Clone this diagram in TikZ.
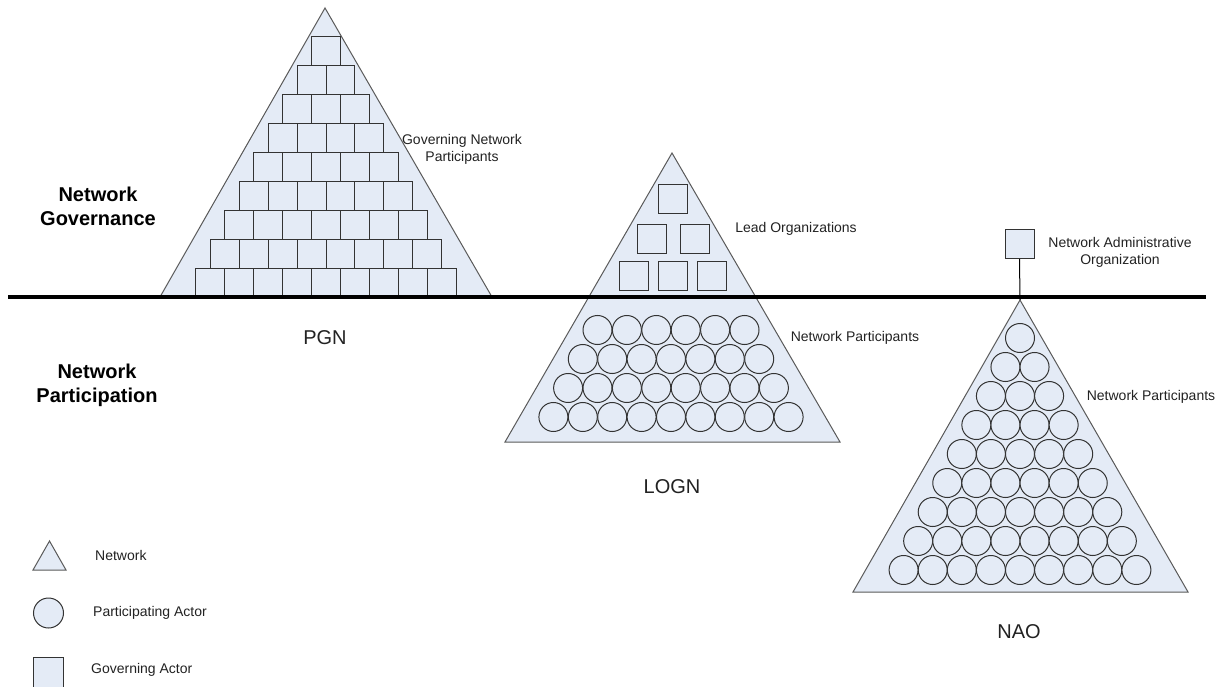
\documentclass[tikz,border=0pt]{standalone}
\usepackage{fontspec}
\setmainfont{Liberation Sans}
\definecolor{fillblue}{HTML}{E4EBF6}
\definecolor{edgegray}{HTML}{5A5A5A}
\definecolor{boxedge}{HTML}{333333}
\definecolor{txtgray}{HTML}{222222}
\tikzset{
  net/.style={draw=edgegray, fill=fillblue, line width=1pt, line join=miter},
  gov/.style={rectangle, draw=boxedge, fill=fillblue, line width=1pt, minimum size=28.9pt, inner sep=0pt},
  govsep/.style={rectangle, draw=boxedge, fill=fillblue, line width=1pt, minimum size=29pt, inner sep=0pt},
  part/.style={circle, draw=boxedge, fill=fillblue, line width=1pt, minimum size=29pt, inner sep=0pt},
  biglabel/.style={font=\fontsize{20}{24}\selectfont, text=txtgray, inner sep=0pt},
  sidelabel/.style={font=\fontsize{20}{24}\selectfont\bfseries, align=center, inner sep=0pt},
  smalllabel/.style={font=\fontsize{14}{17}\selectfont, text=txtgray, align=center, inner sep=0pt},
  legendtext/.style={font=\fontsize{14}{17}\selectfont, text=txtgray, anchor=west, inner sep=0pt}
}
\begin{document}
\begin{tikzpicture}[x=1pt, y=-1pt]
\useasboundingbox (0,0) rectangle (1223,687);
% key coordinates
\coordinate (pgnA) at (325,8);
\coordinate (pgnL) at (160,297);
\coordinate (pgnR) at (492,297);
\coordinate (lognA) at (672,153);
\coordinate (lognL) at (505,442);
\coordinate (lognR) at (840,442);
\coordinate (naoA) at (1020,300);
\coordinate (naoL) at (853,592);
\coordinate (naoR) at (1188,592);
\coordinate (lineL) at (8,297);
\coordinate (lineR) at (1206,297);
% triangles
\draw[net] (pgnA) -- (pgnL) -- (pgnR) -- cycle;
\draw[net] (lognA) -- (lognL) -- (lognR) -- cycle;
\draw[net] (naoA) -- (naoL) -- (naoR) -- cycle;
% PGN squares
\foreach \i in {1,...,9}{
  \foreach \j in {1,...,\i}{
    \node[gov] (pgn-\i-\j) at ({326+(\j-(\i+1)/2)*28.9},{37+(\i-0.5)*28.9}) {};
  }
}
% LOGN lead organisations
\node[govsep] (lo1) at (673,199.5) {};
\node[govsep] (lo2) at (652,238.5) {};
\node[govsep] (lo3) at (695,238.5) {};
\node[govsep] (lo4) at (634,275.5) {};
\node[govsep] (lo5) at (673,275.5) {};
\node[govsep] (lo6) at (712,275.5) {};
% LOGN participants
\foreach \r in {1,...,4}{
  \pgfmathtruncatemacro{\n}{5+\r}
  \foreach \j in {1,...,\n}{
    \node[part] (lp-\r-\j) at ({671+(\j-(\n+1)/2)*29.4},{330+(\r-1)*29}) {};
  }
}
% NAO participants
\foreach \r in {1,...,9}{
  \foreach \j in {1,...,\r}{
    \node[part] (np-\r-\j) at ({1020+(\j-(\r+1)/2)*29.1},{570-(9-\r)*29}) {};
  }
}
% NAO administrative organisation
\node[govsep] (naosq) at (1019.5,244) {};
\draw[black, line width=1pt] (naosq.south) -- (naoA);
% divider line
\draw[black, line width=4pt] (lineL) -- (lineR);
% labels
\node[sidelabel] (gov) at (98,206) {Network\\Governance};
\node[sidelabel] (partic) at (97,385) {Network\\Participation};
\node[biglabel] (pgnlab) at (325,338) {PGN};
\node[biglabel] (lognlab) at (672,487) {LOGN};
\node[biglabel] (naolab) at (1019,632) {NAO};
\node[smalllabel] (gnp) at (462,149) {Governing Network\\Participants};
\node[smalllabel] (lead) at (796,229) {Lead Organizations};
\node[smalllabel] (lnp) at (855,338) {Network Participants};
\node[smalllabel] (nnp) at (1151,397) {Network Participants};
\node[smalllabel] (nadm) at (1120,252) {Network Administrative\\Organization};
% legend
\coordinate (legA) at (49.5,541);
\coordinate (legL) at (33,570);
\coordinate (legR) at (66,570);
\draw[net] (legA) -- (legL) -- (legR) -- cycle;
\node[part, minimum size=30pt] (legc) at (48.5,613) {};
\node[govsep, minimum size=30pt] (legs) at (48.5,672) {};
\node[legendtext] (legtn) at (95,555) {Network};
\node[legendtext] (legcn) at (93,613) {Participating Actor};
\node[legendtext] (legsn) at (91,670) {Governing Actor};
\end{tikzpicture}
\end{document}
